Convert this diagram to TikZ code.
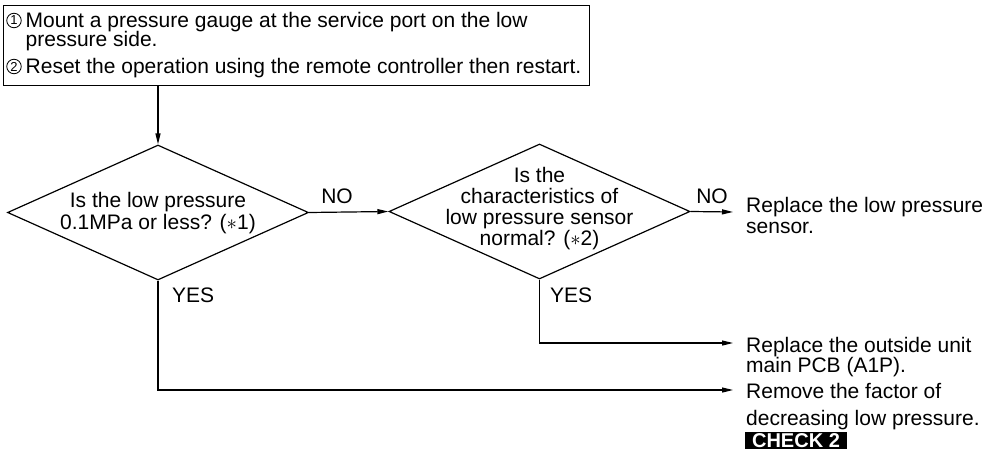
\documentclass[tikz,border=0pt]{standalone}
\usepackage{fontspec}
\setmainfont{Liberation Sans}
\usetikzlibrary{shapes.geometric,arrows.meta}
\begin{document}
\begin{tikzpicture}[x=1pt,y=-1pt,
  txt/.style={inner sep=0pt, text height=14pt, text depth=3pt, font=\fontsize{21}{22}\selectfont},
  lbl/.style={txt, anchor=base},
  lft/.style={txt, anchor=base west},
  ln/.style={line width=1.2pt},
  dia/.style={draw, ln, diamond, inner sep=0pt, minimum width=301pt, minimum height=135pt},
  arr/.style={ln, -{Triangle[length=11pt,width=5pt]}},
  num/.style={draw, circle, inner sep=0pt, minimum size=14.5pt, line width=0.8pt, font=\fontsize{13}{13}\selectfont}
]
\useasboundingbox (0,0) rectangle (996,460);
% top box
\node[draw, ln, minimum width=586pt, minimum height=80pt, anchor=north west, inner sep=0pt] (box) at (3,5) {};
\node[num] (n1) at (14,20.5) {1};
\node[lft] (t1) at (25.5,28) {Mount a pressure gauge at the service port on the low};
\node[lft] (t2) at (25.5,47) {pressure side.};
\node[num] (n2) at (14,66.5) {2};
\node[lft] (t3) at (25.5,74) {Reset the operation using the remote controller then restart.};
% diamonds
\node[dia] (d1) at (158,212.5) {};
\node[dia] (d2) at (539.5,211.5) {};
\node[lbl] (q1a) at (158,207) {Is the low pressure};
\node[lbl] (q1b) at (158,229) {0.1MPa or less? ($\ast$1)};
\node[lbl] (q2a) at (539.5,182) {Is the};
\node[lbl] (q2b) at (539.5,203) {characteristics of};
\node[lbl] (q2c) at (539.5,224) {low pressure sensor};
\node[lbl] (q2d) at (539.5,245) {normal? ($\ast$2)};
% labels
\node[lbl] (no1) at (337,203) {NO};
\node[lbl] (no2) at (712,203) {NO};
\node[lft] (yes1) at (172,302) {YES};
\node[lft] (yes2) at (550,302) {YES};
% results
\node[lft] (r1a) at (746,212) {Replace the low pressure};
\node[lft] (r1b) at (746,233) {sensor.};
\node[lft] (r2a) at (746,352) {Replace the outside unit};
\node[lft] (r2b) at (746,372) {main PCB (A1P).};
\node[lft] (r3a) at (746,398) {Remove the factor of};
\node[lft] (r3b) at (746,425) {decreasing low pressure.};
\node[fill=black, text=white, font=\bfseries\fontsize{20}{20}\selectfont, minimum width=102pt, minimum height=17pt, inner sep=0pt] (chk) at (796,440.5) {CHECK 2};
% connectors
\coordinate (e1) at (733,212);
\coordinate (e2) at (733,343);
\coordinate (e3) at (733,390);
\draw[arr] (box.south -| d1.north) -- (d1.north);
\draw[arr] (d1.east) -- (d2.west);
\draw[arr] (d2.east) -- (e1);
\draw[arr] (d2.south) |- (e2);
\draw[arr] (d1.south) |- (e3);
\end{tikzpicture}
\end{document}
